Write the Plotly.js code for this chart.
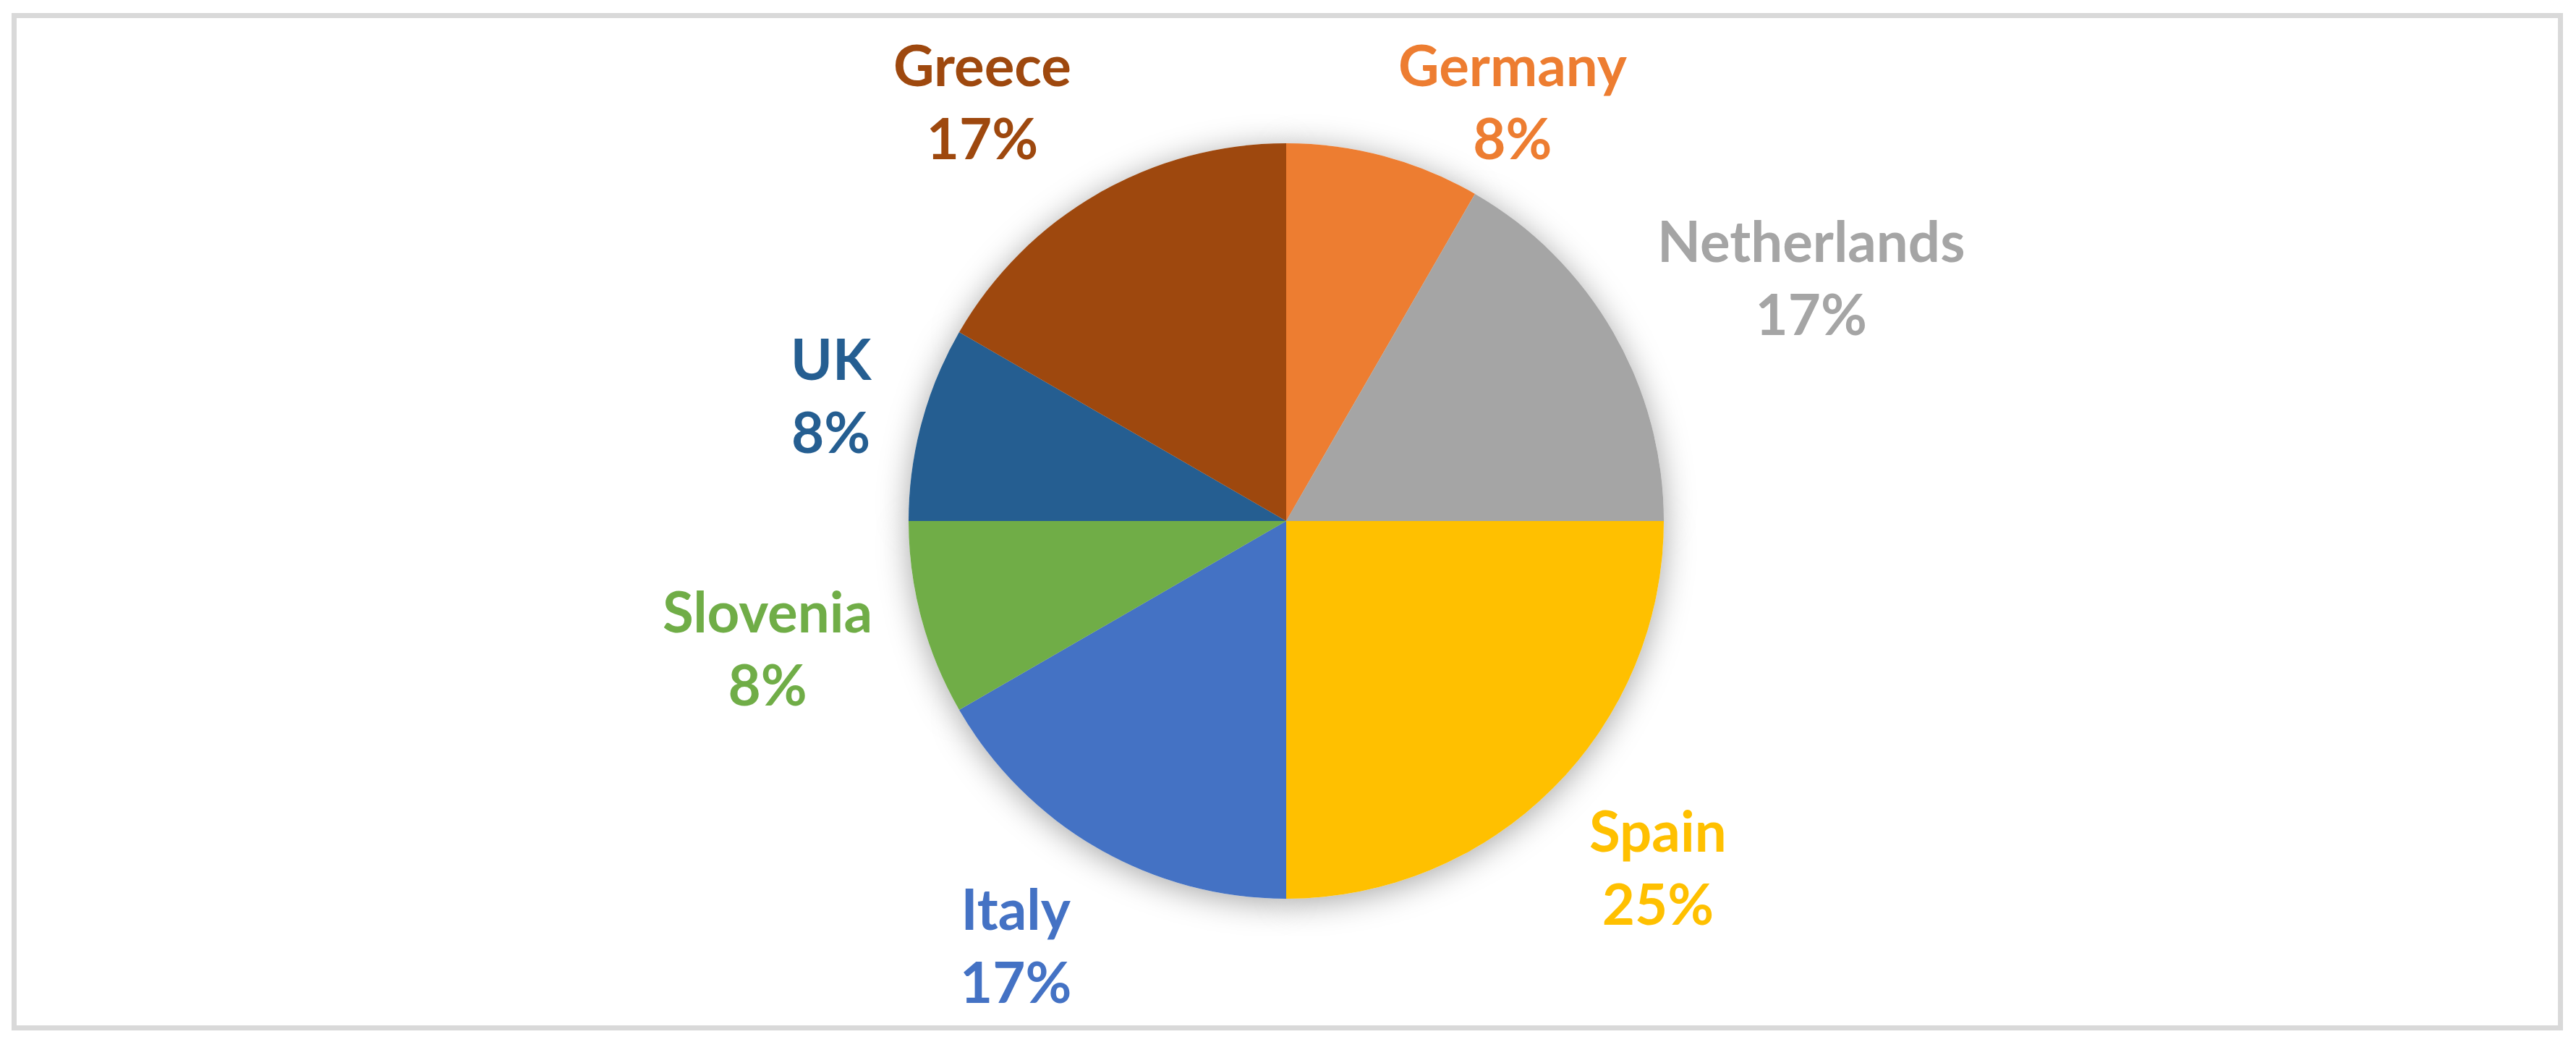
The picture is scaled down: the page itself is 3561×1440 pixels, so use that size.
<!DOCTYPE html>
<html>
<head>
<meta charset="utf-8">
<script src="https://cdn.plot.ly/plotly-3.0.1.min.js"></script>
<style>
  html, body { margin: 0; padding: 0; background: #ffffff; }
  #chart { width: 3561px; height: 1440px; }
  .pielayer .trace:first-child path.surface { filter: drop-shadow(0px 6px 22px rgba(0,0,0,0.35)); }
</style>
</head>
<body>
<div id="chart"></div>
<script>
const countries = ["Germany", "Netherlands", "Spain", "Italy", "Slovenia", "UK", "Greece"];
const counts = [1, 2, 3, 2, 1, 1, 2];
const sliceColors = ["#ED7D31", "#A5A5A5", "#FFC000", "#4472C4", "#70AD47", "#255E91", "#9E480E"];

const W = 3561, H = 1440;
const domain = { x: [0.2, 0.7986], y: [0.1375, 0.8625] };
const labelFont = { family: "Lato, 'Open Sans', sans-serif", size: 78, weight: "bold" };

// Pie geometry as Plotly lays it out (margins are zero, so paper = page)
const cx = (domain.x[0] + domain.x[1]) / 2 * W;
const cy = (1 - (domain.y[0] + domain.y[1]) / 2) * H;
const radius = Math.min((domain.x[1] - domain.x[0]) * W, (domain.y[1] - domain.y[0]) * H) / 2;

// Outside-end data labels, placed along each slice's mid angle
const labelGap = 68;
const labelHeight = 2.2 * labelFont.size;
const labelTopLimit = 54;
const total = counts.reduce((a, b) => a + b, 0);
let cum = 0;
const annotations = countries.map((name, i) => {
  const mid = (cum + counts[i] / 2) / total * 2 * Math.PI;
  cum += counts[i];
  const dx = Math.sin(mid), dy = -Math.cos(mid);
  const R = radius + labelGap;
  const px = cx + R * dx;
  let py = cy + R * dy + dy * labelHeight / 2;
  py = Math.max(py, labelTopLimit + labelHeight / 2);
  const pct = Math.round(counts[i] / total * 100);
  return {
    xref: "paper", yref: "paper",
    x: px / W, y: 1 - py / H,
    xanchor: dx > 0.05 ? "left" : (dx < -0.05 ? "right" : "center"),
    yanchor: "middle",
    align: "center",
    showarrow: false,
    text: name + "<br>" + pct + "%",
    font: Object.assign({ color: sliceColors[i] }, labelFont)
  };
});

const shadowTrace = {
  type: "pie",
  labels: countries,
  values: counts,
  sort: false,
  direction: "clockwise",
  rotation: 0,
  domain: domain,
  marker: { colors: countries.map(() => "#ffffff"), line: { width: 0 } },
  textinfo: "none",
  hoverinfo: "skip",
  showlegend: false
};

const mainTrace = {
  type: "pie",
  labels: countries,
  values: counts,
  sort: false,
  direction: "clockwise",
  rotation: 0,
  domain: domain,
  marker: { colors: sliceColors, line: { width: 0 } },
  textinfo: "none",
  showlegend: false
};

const layout = {
  width: W,
  height: H,
  margin: { l: 0, r: 0, t: 0, b: 0 },
  paper_bgcolor: "#ffffff",
  showlegend: false,
  annotations: annotations,
  shapes: [{
    type: "rect", xref: "paper", yref: "paper",
    x0: 19.5 / W, x1: 3539.5 / W, y0: 1 - 21.5 / H, y1: 1 - 1420.5 / H,
    line: { color: "#D9D9D9", width: 7 }, fillcolor: "rgba(0,0,0,0)"
  }]
};

Plotly.newPlot("chart", [shadowTrace, mainTrace], layout, { staticPlot: true });
</script>
</body>
</html>
